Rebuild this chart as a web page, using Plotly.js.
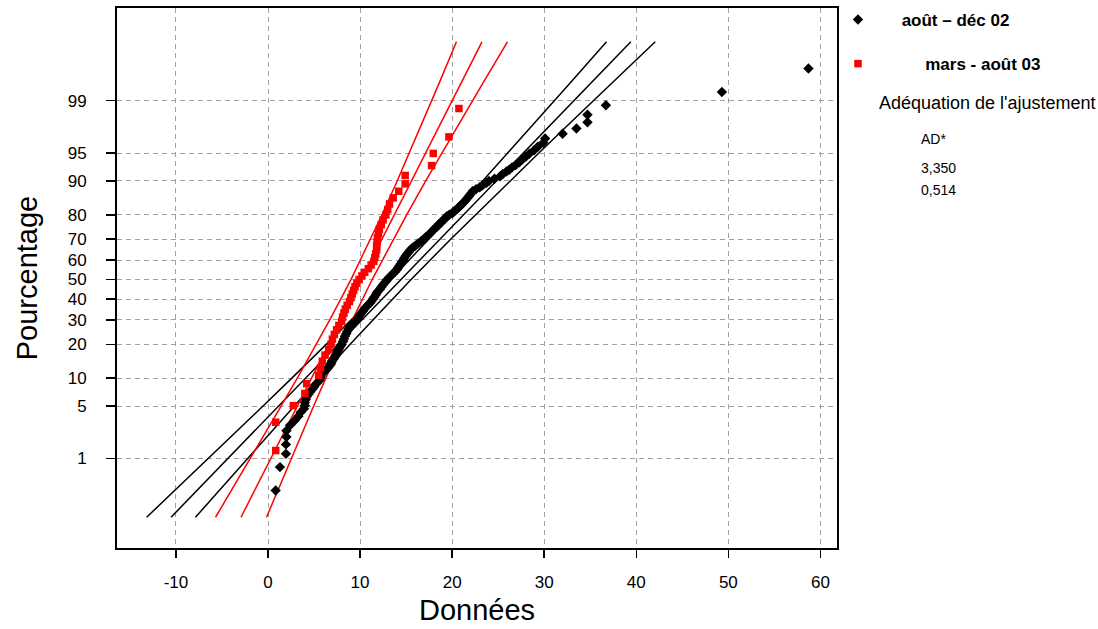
<!DOCTYPE html>
<html>
<head>
<meta charset="utf-8">
<script src="https://cdn.plot.ly/plotly-3.0.1.min.js"></script>
<style>html,body{margin:0;padding:0;background:#fff;}#chart{width:1098px;height:629px;}</style>
</head>
<body>
<div id="chart"></div>
<script>
// ---------- data ----------
// y-axis tick labels (percent)
const yTickPercents = [1, 5, 10, 20, 30, 40, 50, 60, 70, 80, 90, 95, 99];
const xTickValues = [-10, 0, 10, 20, 30, 40, 50, 60];

// série "août – déc 02" : plotting position (%) and observed value
const blackPct = [0.304, 0.738, 1.172, 1.606, 2.040, 2.474, 2.908, 3.342, 3.776, 4.210, 4.644, 5.078, 5.512, 5.946, 6.380, 6.814, 7.248, 7.682, 8.116,
  8.5, 9.0, 9.5, 10.0, 10.5, 11.0, 11.5, 12.0, 12.5, 13.0, 13.5, 14.0, 14.5, 15.0, 15.5, 16.0, 16.5, 17.0, 17.5, 18.0, 18.5, 19.0, 19.5, 20.0,
  21, 22, 23, 24, 25, 26, 27, 28, 29, 30, 31, 32, 33, 34, 35, 36, 37, 38, 39, 40, 41, 42, 43, 44, 45, 46, 47, 48, 49, 50,
  51, 52, 53, 54, 55, 56, 57, 58, 59, 60, 61, 62, 63, 64, 65, 66, 67, 68, 69, 70, 71, 72, 73, 74, 75,
  75.5, 76, 76.5, 77, 77.5, 78, 78.5, 79, 79.5, 80, 80.5, 81, 81.5, 82, 82.5, 83, 83.5, 84, 84.5, 85, 85.5, 86, 86.5, 87, 87.5, 88, 88.5, 89, 89.5, 90, 90.5, 91, 91.5, 92,
  92.318, 92.752, 93.186, 93.620, 94.054, 94.488, 94.922, 95.356, 95.790, 96.224, 96.658, 97.092, 97.526, 97.960, 98.394, 98.828, 99.262, 99.696];
const blackVal = [0.83, 1.3, 1.95, 1.95, 2.0, 2.0, 2.4, 2.9, 3.3, 3.55, 3.9, 4.0, 4.0, 4.1, 4.2, 4.4, 4.6, 4.8, 5.0,
  5.1, 5.35, 5.6, 5.68, 5.75, 5.82, 6.05, 6.3, 6.5, 6.65, 6.8, 6.88, 6.95, 7.1, 7.2, 7.3, 7.4, 7.5, 7.55, 7.65, 7.7, 7.8, 7.9, 8.0,
  8.15, 8.25, 8.35, 8.5, 8.6, 8.75, 8.9, 9.15, 9.45, 9.65, 9.8, 9.95, 10.1, 10.3, 10.45, 10.65, 10.85, 11.1, 11.25, 11.4, 11.55, 11.7, 11.8, 11.95, 12.15, 12.3, 12.45, 12.6, 12.8, 12.95,
  13.15, 13.35, 13.55, 13.8, 14.0, 14.1, 14.25, 14.4, 14.55, 14.7, 14.8, 14.95, 15.1, 15.3, 15.45, 15.7, 16.0, 16.3, 16.6, 16.9, 17.15, 17.45, 17.7, 17.95, 18.2,
  18.35, 18.5, 18.6, 18.75, 18.9, 19.05, 19.2, 19.3, 19.45, 19.7, 20.0, 20.15, 20.3, 20.5, 20.7, 20.85, 21.0, 21.2, 21.35, 21.5, 21.65, 21.8, 21.95, 22.1, 22.25, 22.6, 23.0, 23.3, 23.7, 24.0, 24.6, 25.2, 25.5, 25.9,
  26.2, 26.5, 26.9, 27.3, 27.6, 28.0, 28.4, 28.9, 29.3, 29.9, 30.1, 32.0, 33.5, 34.7, 34.7, 36.7, 49.3, 58.7];

// série "mars - août 03"
const redPct = [1.311, 3.184, 5.056, 6.929, 8.801, 10.674, 12.547, 14.419, 16.292, 18.165, 20.037, 21.910, 23.783, 25.655, 27.528, 29.401, 31.273, 33.146,
  35.019, 36.891, 38.764, 40.637, 42.509, 44.382, 46.255, 48.127, 50.000, 51.873, 53.745, 55.618, 57.491, 59.363, 61.236, 63.109, 64.981, 66.854,
  68.727, 70.599, 72.472, 74.345, 76.217, 78.090, 79.963, 81.835, 83.708, 85.581, 87.453, 89.326, 91.199, 93.071, 94.944, 96.816, 98.689];
const redVal = [0.84, 0.84, 2.75, 4.0, 4.2, 5.5, 5.7, 5.9, 6.2, 6.6, 6.85, 7.0, 7.2, 7.45, 7.7, 8.0, 8.1, 8.25, 8.4, 8.6, 8.85, 9.0, 9.15, 9.3, 9.45, 9.65,
  9.9, 10.2, 10.5, 10.9, 11.2, 11.5, 11.6, 11.7, 11.8, 11.8, 11.85, 11.9, 12.0, 12.1, 12.3, 12.5, 12.8, 13.0, 13.2, 13.6, 14.2, 14.9, 14.9, 17.77, 17.95, 19.65, 20.74];

// fitted lines and 95% bands (value at each percent level)
const fitPct = [0.1, 0.5, 1, 2, 5, 10, 20, 30, 50, 70, 80, 90, 95, 98, 99, 99.5, 99.9];
const blackFit   = [-10.53, -6.37, -4.35, -2.16, 1.15, 4.08, 7.64, 10.21, 14.44, 18.67, 21.24, 24.80, 27.73, 31.04, 33.23, 35.25, 39.41];
const blackBandA = [-13.18, -8.66, -6.47, -4.10, -0.54, 2.59, 6.36, 9.04, 13.34, 17.50, 19.96, 23.31, 26.04, 29.10, 31.11, 32.96, 36.77];
const blackBandB = [-7.88, -4.08, -2.23, -0.22, 2.84, 5.57, 8.92, 11.38, 15.54, 19.84, 22.52, 26.29, 29.42, 32.98, 35.35, 37.54, 42.06];
const redFit   = [-2.93, -0.75, 0.30, 1.46, 3.19, 4.73, 6.59, 7.94, 10.16, 12.37, 13.72, 15.58, 17.12, 18.85, 20.00, 21.06, 23.24];
const redBandA = [-5.70, -3.14, -1.92, -0.57, 1.42, 3.18, 5.25, 6.71, 9.01, 11.14, 12.38, 14.03, 15.35, 16.82, 17.79, 18.67, 20.47];
const redBandB = [-0.16, 1.64, 2.52, 3.49, 4.96, 6.28, 7.93, 9.17, 11.31, 13.60, 15.06, 17.13, 18.89, 20.88, 22.22, 23.45, 26.01];

const seriesNames = ['août – déc 02', 'mars - août 03'];
const gofTitle = "Adéquation de l'ajustement";
const gofHeader = 'AD*';
const gofValues = ['3,350', '0,514'];

// ---------- normal probability scale (inverse normal CDF) ----------
function probit(pc) {
  const p = pc / 100;
  const a = [-3.969683028665376e+01, 2.209460984245205e+02, -2.759285104469687e+02, 1.383577518672690e+02, -3.066479806614716e+01, 2.506628277459239e+00];
  const b = [-5.447609879822406e+01, 1.615858368580409e+02, -1.556989798598866e+02, 6.680131188771972e+01, -1.328068155288572e+01];
  const c = [-7.784894002430293e-03, -3.223964580411365e-01, -2.400758277161838e+00, -2.549732539343734e+00, 4.374664141464968e+00, 2.938163982698783e+00];
  const d = [7.784695709041462e-03, 3.224671290700398e-01, 2.445134137142996e+00, 3.754408661907416e+00];
  const pl = 0.02425, ph = 1 - pl;
  let q, r;
  if (p < pl) {
    q = Math.sqrt(-2 * Math.log(p));
    return (((((c[0]*q+c[1])*q+c[2])*q+c[3])*q+c[4])*q+c[5]) / ((((d[0]*q+d[1])*q+d[2])*q+d[3])*q+1);
  } else if (p <= ph) {
    q = p - 0.5; r = q * q;
    return (((((a[0]*r+a[1])*r+a[2])*r+a[3])*r+a[4])*r+a[5])*q / (((((b[0]*r+b[1])*r+b[2])*r+b[3])*r+b[4])*r+1);
  } else {
    q = Math.sqrt(-2 * Math.log(1 - p));
    return -(((((c[0]*q+c[1])*q+c[2])*q+c[3])*q+c[4])*q+c[5]) / ((((d[0]*q+d[1])*q+d[2])*q+d[3])*q+1);
  }
}
const Z = arr => arr.map(probit);

const FONT = 'Arial, "Liberation Sans", sans-serif';
const fitZ = Z(fitPct);
function line(xs, color) {
  return {x: xs, y: fitZ, type: 'scatter', mode: 'lines', showlegend: false, hoverinfo: 'skip',
          line: {color: color, width: 1.5}};
}
const pad = n => '\u00a0'.repeat(n);

const traces = [
  line(blackBandA, '#000000'), line(blackFit, '#000000'), line(blackBandB, '#000000'),
  line(redBandA, '#ff0000'), line(redFit, '#ff0000'), line(redBandB, '#ff0000'),
  {x: blackVal, y: Z(blackPct), type: 'scatter', mode: 'markers', name: pad(5) + '<b>' + seriesNames[0] + '</b>',
   legendgroup: 'a', marker: {symbol: 'diamond', size: 8, color: '#000000'}},
  {x: redVal, y: Z(redPct), type: 'scatter', mode: 'markers', name: pad(10) + '<b>' + seriesNames[1] + '</b>',
   legendgroup: 'b', marker: {symbol: 'square', size: 7.5, color: '#ff0000'}}
];

const annY = py => (548 - py) / 540;
const annX = px => (px - 117) / 720;

const layout = {
  width: 1098, height: 629,
  margin: {l: 117, r: 261, t: 8, b: 81},
  paper_bgcolor: '#ffffff', plot_bgcolor: '#ffffff',
  font: {family: FONT, color: '#000000'},
  showlegend: true,
  legend: {xref: 'container', yref: 'container', x: 838 / 1098, y: 1 - 2 / 629, xanchor: 'left', yanchor: 'top',
           font: {family: FONT, size: 17, color: '#000000'}, tracegroupgap: 19, bgcolor: 'rgba(0,0,0,0)'},
  xaxis: {
    range: [-16.4, 61.8], tickvals: xTickValues, ticktext: xTickValues.map(String),
    showline: true, mirror: true, linecolor: '#000000', linewidth: 2,
    ticks: 'outside', ticklen: 8, tickwidth: 1.5, tickcolor: '#000000', ticklabelstandoff: 10,
    tickfont: {family: FONT, size: 17, color: '#000000'},
    showgrid: true, gridcolor: '#a0a0a0', gridwidth: 1, griddash: '5px,4px', zeroline: false,
    title: {text: 'Données', font: {family: FONT, size: 29, color: '#000000'}, standoff: 8}
  },
  yaxis: {
    range: [-3.49, 3.53], tickvals: Z(yTickPercents), ticktext: yTickPercents.map(String),
    showline: true, mirror: true, linecolor: '#000000', linewidth: 2,
    ticks: 'outside', ticklen: 9, tickwidth: 1.5, tickcolor: '#000000', ticklabelstandoff: 16,
    tickfont: {family: FONT, size: 17, color: '#000000'},
    showgrid: true, gridcolor: '#a0a0a0', gridwidth: 1, griddash: '5px,4px', zeroline: false,
    title: {text: 'Pourcentage', font: {family: FONT, size: 29, color: '#000000'}, standoff: 22}
  },
  annotations: [
    {xref: 'paper', yref: 'paper', x: annX(877), y: annY(103), xanchor: 'left', yanchor: 'middle', showarrow: false,
     text: gofTitle, font: {family: FONT, size: 18, color: '#000000'}},
    {xref: 'paper', yref: 'paper', x: annX(919), y: annY(139), xanchor: 'left', yanchor: 'middle', showarrow: false,
     text: gofHeader, font: {family: FONT, size: 14, color: '#000000'}},
    {xref: 'paper', yref: 'paper', x: annX(919), y: annY(168), xanchor: 'left', yanchor: 'middle', showarrow: false,
     text: gofValues[0], font: {family: FONT, size: 14, color: '#000000'}},
    {xref: 'paper', yref: 'paper', x: annX(919), y: annY(190), xanchor: 'left', yanchor: 'middle', showarrow: false,
     text: gofValues[1], font: {family: FONT, size: 14, color: '#000000'}}
  ]
};

Plotly.newPlot('chart', traces, layout, {displayModeBar: false, staticPlot: true});
</script>
</body>
</html>
